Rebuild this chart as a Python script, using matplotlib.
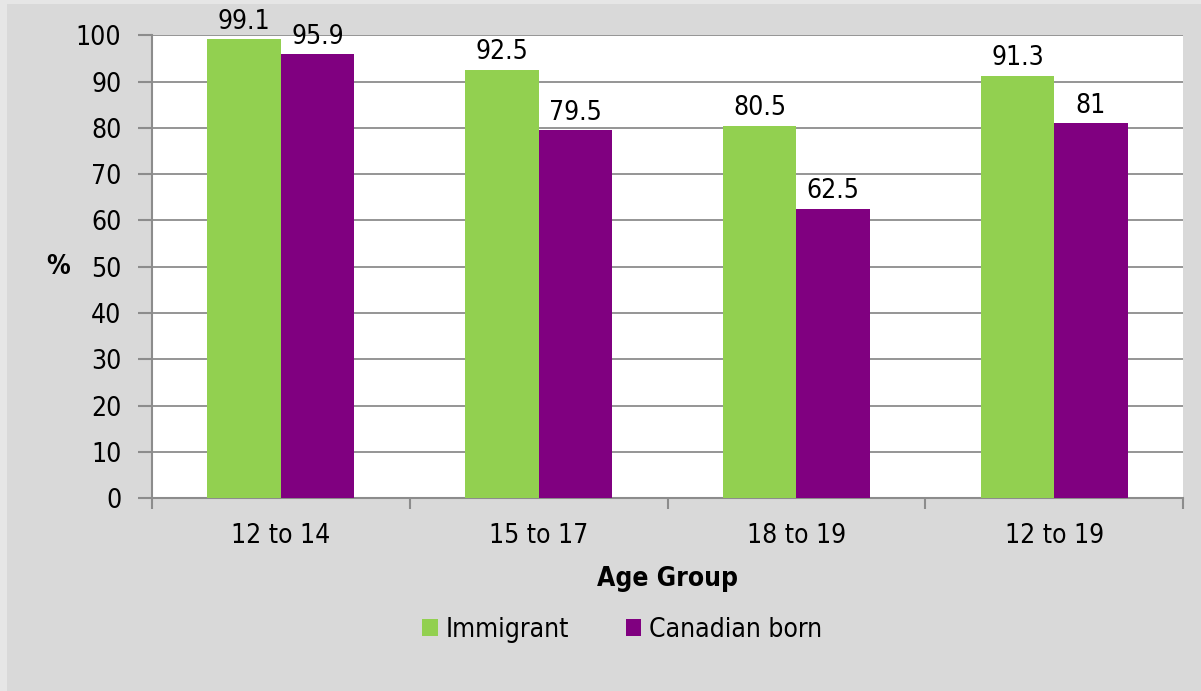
import matplotlib
matplotlib.use('Agg')
import matplotlib.pyplot as plt
import numpy as np
from matplotlib.patches import Rectangle

categories = ['12 to 14', '15 to 17', '18 to 19', '12 to 19']
immigrant = [99.1, 92.5, 80.5, 91.3]
canadian_born = [95.9, 79.5, 62.5, 81]
immigrant_labels = ['99.1', '92.5', '80.5', '91.3']
canadian_labels = ['95.9', '79.5', '62.5', '81']

plt.rcParams['font.family'] = ['DejaVu Sans']
plt.rcParams['font.stretch'] = 'condensed'

GREEN = '#92d050'
PURPLE = '#800080'
BG = '#d9d9d9'
GRID = '#8c8c8c'
FS = 19

fig = plt.figure(figsize=(12.01, 6.91), dpi=100, facecolor=BG)
# lighter frame on the left and top edges
fig.patches.append(Rectangle((0, 0), 7 / 1201, 1, transform=fig.transFigure,
                             facecolor='#e6e6e6', edgecolor='none'))
fig.patches.append(Rectangle((0, 1 - 4 / 691), 1, 4 / 691, transform=fig.transFigure,
                             facecolor='#e6e6e6', edgecolor='none'))
ax = fig.add_axes([0.1266, 0.279, 0.8584, 0.670])
ax.set_facecolor('white')

x = np.arange(len(categories))
w = 0.285
b1 = ax.bar(x - w / 2, immigrant, w, color=GREEN, label='Immigrant', zorder=3)
b2 = ax.bar(x + w / 2, canadian_born, w, color=PURPLE, label='Canadian born', zorder=3)

for rect, lab in zip(b1, immigrant_labels):
    ax.text(rect.get_x() + rect.get_width() / 2, rect.get_height() + 1.0, lab,
            ha='center', va='bottom', fontsize=FS)
for rect, lab in zip(b2, canadian_labels):
    ax.text(rect.get_x() + rect.get_width() / 2, rect.get_height() + 1.0, lab,
            ha='center', va='bottom', fontsize=FS)

ax.set_xlim(-0.5, len(categories) - 0.5)
ax.set_ylim(0, 100)
ax.set_yticks(np.arange(0, 101, 10))
ax.yaxis.grid(True, color=GRID, linewidth=1.3, zorder=0)
ax.set_axisbelow(True)

ax.set_xticks(x)
ax.set_xticklabels(categories, fontsize=FS)
ax.set_xticks(np.arange(-0.5, len(categories), 1), minor=True)
ax.tick_params(axis='x', which='major', length=0, pad=18)
ax.tick_params(axis='x', which='minor', length=8, width=1.5, color=GRID)
ax.tick_params(axis='y', length=10, width=1.5, color=GRID, labelsize=FS, pad=12)

for side in ['top', 'right']:
    ax.spines[side].set_visible(False)
for side in ['left', 'bottom']:
    ax.spines[side].set_color(GRID)
    ax.spines[side].set_linewidth(1.5)

ax.set_xlabel('Age Group', fontsize=FS, fontweight='bold', labelpad=12)
ax.set_ylabel('%', fontsize=FS, fontweight='bold', rotation=0, labelpad=13, va='center')

fig.legend(loc='center', bbox_to_anchor=(0.518, 0.089), ncol=2, frameon=False,
           fontsize=FS, handlelength=0.6, handleheight=0.6, handletextpad=0.3,
           columnspacing=2.15)

fig.savefig('out.png', dpi=100, facecolor=BG)
